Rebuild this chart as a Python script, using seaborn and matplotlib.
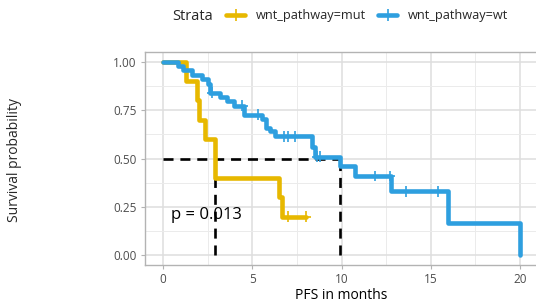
import numpy as np
import pandas as pd
import matplotlib
matplotlib.use("Agg")
import matplotlib.pyplot as plt
import seaborn as sns
from matplotlib.lines import Line2D

# ---- data ----
strata_names = ["wnt_pathway=mut", "wnt_pathway=wt"]
colors = ["#E7B800", "#2E9FDF"]

mut_time = [0.0, 1.3, 1.9, 2.05, 2.35, 2.9, 6.5, 6.65, 8.0]
mut_surv = [1.0, 0.9, 0.8, 0.7, 0.6, 0.4, 0.3, 0.2, 0.2]
mut_cens_time = [7.0, 8.0]
mut_cens_surv = [0.2, 0.2]

wt_time = [0.0, 0.85, 1.1, 1.65, 2.2, 2.5, 2.65, 3.2, 3.6, 4.0, 4.55, 5.55, 5.8,
           6.0, 6.3, 8.35, 8.5, 9.9, 10.75, 12.75, 15.95, 20.0]
wt_surv = [1.0, 0.977, 0.955, 0.932, 0.909, 0.886, 0.84, 0.818, 0.795, 0.773, 0.727,
           0.705, 0.66, 0.64, 0.614, 0.56, 0.51, 0.46, 0.41, 0.33, 0.165, 0.0]
wt_cens_time = [2.75, 4.45, 5.3, 6.8, 7.0, 7.4, 8.65, 8.8, 11.9, 12.7, 13.6, 15.4]
wt_cens_surv = [0.84, 0.773, 0.727, 0.614, 0.614, 0.614, 0.51, 0.51, 0.41, 0.41, 0.33, 0.33]

median_mut = 2.9
median_wt = 9.9
p_text = "p = 0.013"

x_ticks = [0, 5, 10, 15, 20]
y_ticks = [0.0, 0.25, 0.5, 0.75, 1.0]
y_tick_labels = ["0.00", "0.25", "0.50", "0.75", "1.00"]

# ---- frames ----
curve = pd.concat([
    pd.DataFrame({"time": mut_time, "surv": mut_surv, "strata": strata_names[0]}),
    pd.DataFrame({"time": wt_time, "surv": wt_surv, "strata": strata_names[1]}),
], ignore_index=True)
cens = pd.concat([
    pd.DataFrame({"time": mut_cens_time, "surv": mut_cens_surv, "strata": strata_names[0]}),
    pd.DataFrame({"time": wt_cens_time, "surv": wt_cens_surv, "strata": strata_names[1]}),
], ignore_index=True)

sns.set_theme(style="white")
plt.rcParams["font.family"] = ["Open Sans", "DejaVu Sans"]

fig = plt.figure(figsize=(5.36, 3.03), dpi=100)
W, H = 536, 303
ax = fig.add_axes([145 / W, (H - 265) / H, 393 / W, 213 / H])

palette = dict(zip(strata_names, colors))

# grid
ax.set_xlim(-1, 21)
ax.set_ylim(-0.05, 1.05)
for v in np.arange(0, 21, 2.5):
    ax.axvline(v, color="#EBEBEB" if v % 5 else "#DEDEDE", lw=0.7 if v % 5 else 1.1, zorder=0)
for v in np.arange(0, 1.01, 0.125):
    ax.axhline(v, color="#EBEBEB" if (v * 4) % 1 else "#DEDEDE", lw=0.7 if (v * 4) % 1 else 1.1, zorder=0)

# median lines
dash = (0, (3.8, 2.6))
ax.plot([0, median_wt], [0.5, 0.5], color="black", lw=1.9, ls=dash, zorder=1)
ax.plot([median_mut, median_mut], [0, 0.5], color="black", lw=1.9, ls=dash, zorder=1)
ax.plot([median_wt, median_wt], [0, 0.5], color="black", lw=1.9, ls=dash, zorder=1)

sns.lineplot(data=curve, x="time", y="surv", hue="strata", palette=palette,
             drawstyle="steps-post", estimator=None, sort=False, lw=3.3,
             legend=False, ax=ax, zorder=2)
sns.scatterplot(data=cens, x="time", y="surv", hue="strata", palette=palette,
                marker="+", s=60, linewidth=1.2, legend=False, ax=ax, zorder=3)

ax.text(0.45, 0.21, p_text, fontsize=12, va="center", ha="left", color="black", zorder=4)

ax.set_xticks(x_ticks)
ax.set_xticklabels([str(t) for t in x_ticks])
ax.set_yticks(y_ticks)
ax.set_yticklabels(y_tick_labels)
ax.tick_params(axis="both", labelsize=8.5, colors="#B3B3B3", labelcolor="#4D4D4D",
               length=3, width=0.8, direction="out", pad=3)
ax.tick_params(axis="x", bottom=True)
ax.tick_params(axis="y", left=True)
for s in ax.spines.values():
    s.set_color("#B3B3B3")
    s.set_linewidth(1.0)

ax.set_xlabel("PFS in months", fontsize=10, color="black", labelpad=1)
ax.set_ylabel("")
fig.text(15 / W, 1 - 160 / H, "Survival probability", rotation=90, fontsize=10,
         va="center", ha="center")

# legend
fig.text(172 / W, 1 - 16 / H, "Strata", fontsize=10.5, va="center", ha="left")
handles = [Line2D([0], [0], color=c, lw=3.3, marker="+", markersize=8, mew=1.2) for c in colors]
fig.legend(handles, strata_names, loc="center left", bbox_to_anchor=(226 / W, 1 - 16 / H),
           ncol=2, frameon=False, fontsize=9.2, handlelength=1.5, handletextpad=0.85,
           columnspacing=0.95, borderaxespad=0, borderpad=0)

fig.savefig("out.png", dpi=100)
